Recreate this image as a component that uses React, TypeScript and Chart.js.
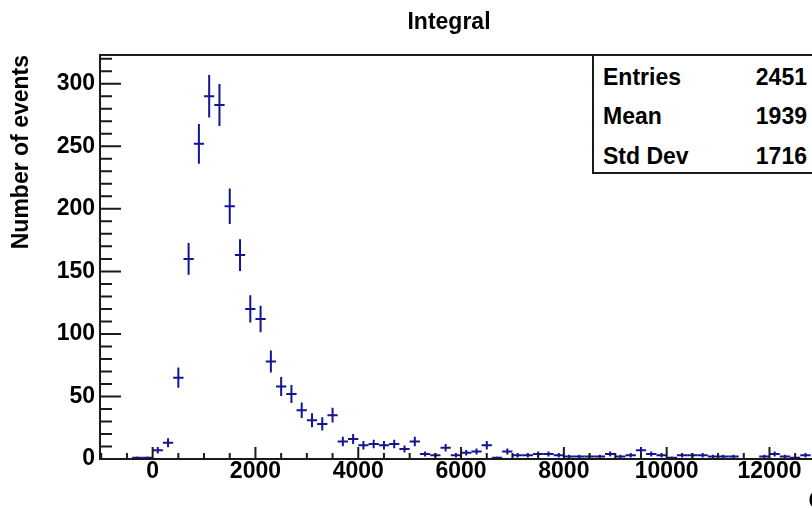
import React, { useEffect, useRef } from 'react';
import { Chart, registerables } from 'chart.js';

Chart.register(...registerables);

// ---- Data -----------------------------------------------------------------
const chartTitle = 'Integral';
const xAxisTitle = 'Q [ADC]';
const yAxisTitle = 'Number of events';

const binWidth = 200;
const binCenters = [
  -300, -100, 100, 300, 500, 700, 900, 1100, 1300, 1500, 1700, 1900, 2100, 2300,
  2500, 2700, 2900, 3100, 3300, 3500, 3700, 3900, 4100, 4300, 4500, 4700, 4900,
  5100, 5300, 5500, 5700, 5900, 6100, 6300, 6500, 6700, 6900, 7100, 7300, 7500,
  7700, 7900, 8100, 8300, 8500, 8700, 8900, 9100, 9300, 9500, 9700, 9900, 10100,
  10300, 10500, 10700, 10900, 11100, 11300, 11900, 12100, 12300, 12500, 12700,
];
const counts = [
  1, 1, 7, 13, 65, 160, 252, 290, 283, 202, 163, 120, 112, 78,
  58, 52, 39, 31, 28, 35, 14, 16, 11, 12, 11, 12, 8,
  14, 4, 3, 9, 3, 5, 6, 11, 1, 6, 3, 3, 4,
  4, 3, 2, 2, 2, 2, 4, 2, 3, 7, 4, 3, 1,
  3, 3, 3, 2, 2, 2, 2, 4, 2, 1, 3,
];

const xMin = -1024;
const xMax = 14500;
const yMin = 0;
const yMax = 323;
const xTickValues = [0, 2000, 4000, 6000, 8000, 10000, 12000];
const yTickValues = [0, 50, 100, 150, 200, 250, 300];
const xMinorStep = 500;
const xMajorStep = 2000;
const yMinorStep = 10;
const yMajorStep = 50;

const statLabels = ['Entries', 'Mean', 'Std Dev'];
const statValues = ['2451', '1939', '1716'];

// ---- Styles ---------------------------------------------------------------
const FONT = "'Liberation Sans', Arial, Helvetica, sans-serif";
const MARK_COLOR = '#141496';
const AXIS_COLOR = '#1a1a1a';

const errorBarPlugin = {
  id: 'rootErrorBars',
  afterDatasetsDraw(chart: any) {
    const { ctx, chartArea, scales } = chart;
    const xs = scales.x;
    const ys = scales.y;
    ctx.save();
    ctx.beginPath();
    ctx.rect(chartArea.left, chartArea.top, chartArea.right - chartArea.left, chartArea.bottom - chartArea.top);
    ctx.clip();
    ctx.strokeStyle = MARK_COLOR;
    ctx.lineWidth = 2;
    const data = chart.data.datasets[0].data as { x: number; y: number }[];
    data.forEach((d) => {
      if (!d.y) return;
      const err = Math.sqrt(d.y);
      const x0 = xs.getPixelForValue(d.x - binWidth / 2);
      const x1 = xs.getPixelForValue(d.x + binWidth / 2);
      const xc = xs.getPixelForValue(d.x);
      const yc = ys.getPixelForValue(d.y);
      const yLo = ys.getPixelForValue(Math.max(0, d.y - err));
      const yHi = ys.getPixelForValue(d.y + err);
      ctx.beginPath();
      ctx.moveTo(x0, yc);
      ctx.lineTo(x1, yc);
      ctx.moveTo(xc, yLo);
      ctx.lineTo(xc, yHi);
      ctx.stroke();
    });
    ctx.restore();
  },
};

const framePlugin = {
  id: 'rootFrame',
  afterDraw(chart: any) {
    const { ctx, chartArea, scales } = chart;
    const xs = scales.x;
    const ys = scales.y;
    const { left, right, top, bottom } = chartArea;
    ctx.save();
    ctx.strokeStyle = AXIS_COLOR;
    ctx.lineWidth = 2;
    ctx.beginPath();
    for (let v = yMin; v <= yMax; v += yMinorStep) {
      const py = ys.getPixelForValue(v);
      const len = v % yMajorStep === 0 ? 21 : 12;
      ctx.moveTo(left, py);
      ctx.lineTo(left + len, py);
    }
    const firstX = Math.ceil(xMin / xMinorStep) * xMinorStep;
    for (let v = firstX; v <= xMax; v += xMinorStep) {
      const px = xs.getPixelForValue(v);
      const len = v % xMajorStep === 0 ? 12 : 6;
      ctx.moveTo(px, bottom);
      ctx.lineTo(px, bottom - len);
    }
    ctx.stroke();
    ctx.strokeRect(left, top, right - left, bottom - top);
    ctx.restore();
  },
};

export default function App() {
  const canvasRef = useRef<HTMLCanvasElement>(null);

  useEffect(() => {
    const canvas = canvasRef.current;
    if (!canvas) return;
    const chart = new Chart(canvas, {
      type: 'scatter',
      data: {
        datasets: [
          {
            label: 'Integral',
            data: binCenters.map((x, i) => ({ x, y: counts[i] })),
            pointRadius: 0,
            pointHoverRadius: 0,
            showLine: false,
            borderColor: MARK_COLOR,
            backgroundColor: MARK_COLOR,
          },
        ],
      },
      options: {
        animation: false,
        responsive: false,
        devicePixelRatio: 1,
        events: [],
        layout: { padding: { left: 0, right: 12, top: 0, bottom: 0 } },
        plugins: {
          legend: { display: false },
          tooltip: { enabled: false },
          title: {
            display: true,
            text: chartTitle,
            color: '#000',
            font: { family: FONT, size: 23, weight: 'bold', lineHeight: 1.2 },
            padding: { top: 9, bottom: 18.4 },
          },
        },
        scales: {
          x: {
            type: 'linear',
            min: xMin,
            max: xMax,
            afterBuildTicks: (s: any) => {
              s.ticks = xTickValues.map((v) => ({ value: v }));
            },
            afterFit: (s: any) => {
              s.height = 61;
            },
            grid: { display: false, drawTicks: false },
            border: { display: false },
            ticks: {
              autoSkip: false,
              maxRotation: 0,
              minRotation: 0,
              padding: 1,
              color: '#000',
              font: { family: FONT, size: 23, weight: 'bold', lineHeight: 1 },
              callback: (v: any) => String(v),
            },
            title: {
              display: true,
              text: xAxisTitle,
              align: 'end',
              color: '#000',
              font: { family: FONT, size: 23, weight: 'bold', lineHeight: 1.2 },
              padding: { top: 0, bottom: 5 },
            },
          },
          y: {
            type: 'linear',
            min: yMin,
            max: yMax,
            afterBuildTicks: (s: any) => {
              s.ticks = yTickValues.map((v) => ({ value: v }));
            },
            afterFit: (s: any) => {
              s.width = 100;
            },
            grid: { display: false, drawTicks: false },
            border: { display: false },
            ticks: {
              padding: 5,
              color: '#000',
              font: { family: FONT, size: 23, weight: 'bold', lineHeight: 1 },
              callback: (v: any) => String(v),
            },
            title: {
              display: true,
              text: yAxisTitle,
              align: 'end',
              color: '#000',
              font: { family: FONT, size: 23, weight: 'bold', lineHeight: 1.2 },
              padding: { top: 8, bottom: 0 },
            },
          },
        },
      } as any,
      plugins: [errorBarPlugin, framePlugin],
    });
    return () => chart.destroy();
  }, []);

  return (
    <div
      style={{
        position: 'fixed',
        left: 0,
        top: 0,
        width: 812,
        height: 508,
        overflow: 'hidden',
        background: '#fff',
      }}
    >
      <canvas
        ref={canvasRef}
        width={910}
        height={520}
        style={{ position: 'absolute', left: 0, top: 0, width: 910, height: 520 }}
      />
      <div
        style={{
          position: 'absolute',
          left: 592,
          top: 54,
          width: 240,
          height: 120,
          border: '2px solid #1a1a1a',
          boxSizing: 'border-box',
          background: '#fff',
          fontFamily: FONT,
          fontWeight: 'bold',
          fontSize: 23,
          color: '#000',
        }}
      >
        {statLabels.map((label, i) => (
          <div
            key={label}
            style={{
              position: 'absolute',
              left: 9,
              right: 23,
              top: 7 + i * 39.3,
              height: 28,
              lineHeight: '28px',
              display: 'flex',
              justifyContent: 'space-between',
              whiteSpace: 'nowrap',
            }}
          >
            <span>{label}</span>
            <span>{statValues[i]}</span>
          </div>
        ))}
      </div>
    </div>
  );
}
